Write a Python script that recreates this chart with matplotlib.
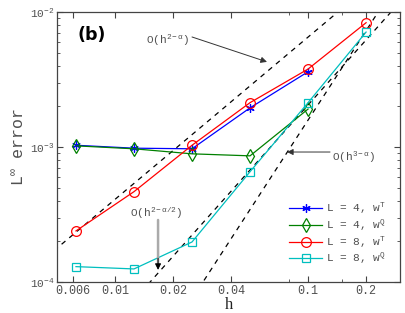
import matplotlib
matplotlib.use('Agg')
import matplotlib.pyplot as plt
import matplotlib.ticker as mticker
import numpy as np

# mesh sizes and errors
h = [0.00625, 0.0125, 0.025, 0.05, 0.1, 0.2]
err_L4_T = [1.03e-3, 0.98e-3, 0.97e-3, 1.95e-3, 3.61e-3]
err_L4_Q = [1.02e-3, 0.97e-3, 0.89e-3, 0.86e-3, 1.91e-3]
err_L8_T = [2.39e-4, 4.67e-4, 1.03e-3, 2.13e-3, 3.78e-3, 8.33e-3]
err_L8_Q = [1.30e-4, 1.25e-4, 1.98e-4, 0.656e-3, 2.13e-3, 7.1e-3]

labels = ['L = 4, w$^{\\mathrm{T}}$', 'L = 4, w$^{\\mathrm{Q}}$',
          'L = 8, w$^{\\mathrm{T}}$', 'L = 8, w$^{\\mathrm{Q}}$']

# reference slopes: order, anchor h, anchor error
ref_order = [1.2, 2.2, 1.6]
ref_h0 = [0.005, 0.0285, 0.01515]
ref_e0 = [1.79e-4, 1e-4, 1e-4]

xticks = [0.006, 0.01, 0.02, 0.04, 0.1, 0.2]
xticklabels = ['0.006', '0.01', '0.02', '0.04', '0.1', '0.2']

plt.rcParams['font.family'] = ['Liberation Mono', 'DejaVu Sans Mono']
plt.rcParams['mathtext.fontset'] = 'custom'
plt.rcParams['mathtext.rm'] = 'Liberation Mono'
plt.rcParams['mathtext.it'] = 'Liberation Mono'
plt.rcParams['mathtext.bf'] = 'Liberation Mono:bold'

txt = '#505050'

fig = plt.figure(figsize=(4.05, 3.13), dpi=100)
ax = fig.add_axes([0.1415, 0.099, 0.8462, 0.8627])

# reference lines
hl = np.array([0.004, 0.4])
for p, h0, e0 in zip(ref_order, ref_h0, ref_e0):
    ax.plot(hl, e0 * (hl / h0) ** p, color='k', lw=0.9, ls=(0, (4, 4)))

n4 = len(err_L4_T)
ax.plot(h[:n4], err_L4_T, color='#0000ff', lw=0.9, marker=(6, 2, 0), ms=6,
        mew=0.9, label=labels[0])
ax.plot(h[:n4], err_L4_Q, color='#008000', lw=0.9, marker='d', ms=7,
        mfc='none', mew=0.9, label=labels[1])
ax.plot(h, err_L8_T, color='#ff0000', lw=0.9, marker='o', ms=7,
        mfc='none', mew=0.9, label=labels[2])
ax.plot(h, err_L8_Q, color='#00bfbf', lw=0.9, marker='s', ms=5.5,
        mfc='none', mew=0.9, label=labels[3])

ax.set_xscale('log')
ax.set_yscale('log')
ax.set_xlim(0.005, 0.3)
ax.set_ylim(1e-4, 1e-2)
ax.set_xticks(xticks)
ax.set_xticklabels(xticklabels)
ax.xaxis.set_minor_locator(mticker.FixedLocator([0.08, 0.15]))
ax.xaxis.set_minor_formatter(mticker.NullFormatter())
ax.set_yticks([1e-4, 1e-3, 1e-2])

ax.tick_params(which='both', direction='in', top=True, right=True,
               colors='#444444', labelcolor=txt)
ax.tick_params(which='major', length=4, width=0.8)
ax.tick_params(which='minor', length=2.5, width=0.6)
ax.tick_params(axis='x', labelsize=8.5, pad=2.5)
ax.tick_params(axis='y', labelsize=8, pad=2)
for s in ax.spines.values():
    s.set_color('#444444')
    s.set_linewidth(0.9)

ax.set_xlabel('h', fontsize=12, color='#222222', family='Liberation Serif',
              labelpad=0)
ax.set_ylabel('L$^{\\infty}$ error', fontsize=12, color=txt, labelpad=2)

ax.text(0.06, 0.915, '(b)', transform=ax.transAxes, fontsize=12.5,
        fontweight='bold', family='DejaVu Sans', va='center', ha='left')

# annotations
ax.annotate('', xy=(0.0612, 4.27e-3), xytext=(0.025, 6.53e-3),
            arrowprops=dict(arrowstyle='-|>', color='#333333', lw=0.7,
                            mutation_scale=9, shrinkA=0, shrinkB=0))
ax.text(0.01443, 6.2e-3, 'O(h$^{2-\\alpha}$)', fontsize=8, color=txt,
        va='center', ha='left')

ax.annotate('', xy=(0.0778, 9.18e-4), xytext=(0.130, 9.18e-4),
            arrowprops=dict(arrowstyle='-|>', color='#333333', lw=0.7,
                            mutation_scale=9, shrinkA=0, shrinkB=0))
ax.text(0.1333, 8.43e-4, 'O(h$^{3-\\alpha}$)', fontsize=8, color=txt,
        va='center', ha='left')

ax.annotate('', xy=(0.01666, 1.3e-4), xytext=(0.01666, 2.88e-4),
            arrowprops=dict(arrowstyle='-', color='#aaaaaa', lw=1.8,
                            shrinkA=0, shrinkB=0))
ax.annotate('', xy=(0.01666, 1.23e-4), xytext=(0.01666, 1.5e-4),
            arrowprops=dict(arrowstyle='-|>', color='k', lw=0.7,
                            mutation_scale=9, shrinkA=0, shrinkB=0))
ax.text(0.01626, 3.24e-4, 'O(h$^{2-\\alpha/2}$)', fontsize=8, color=txt,
        va='center', ha='center')

leg = ax.legend(loc='upper left', bbox_to_anchor=(0.676, 0.30), frameon=False,
                fontsize=8, handlelength=3.0, handletextpad=0.35,
                labelspacing=0.12, borderpad=0, borderaxespad=0)
for t in leg.get_texts():
    t.set_color(txt)

fig.savefig('out.png', dpi=100)
